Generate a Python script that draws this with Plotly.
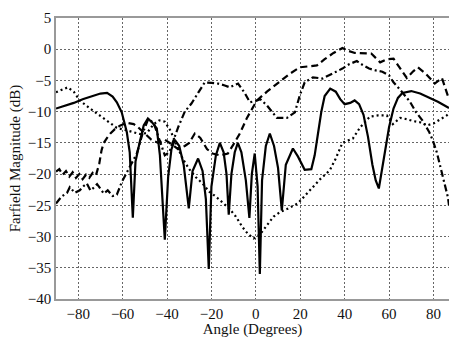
import plotly.graph_objects as go

# ---- data (angle in degrees, magnitude in dB) ----
solid_angle = [-90, -86, -82, -78, -74, -70, -67, -64.5, -62.6, -60.4, -58.1, -56.8, -55.4, -54.2, -52.3, -50.5,
               -48.6, -46.5, -44.6, -43.2, -41, -39.5, -38, -36.5, -34.5, -32.5, -30.2, -28.5, -26, -24, -22.5,
               -21.2, -20, -18, -16.2, -14.5, -13.2, -12.2, -11, -9.5, -8.1, -6.5, -4.5, -2.9, -1.8, -0.5, 0.8,
               1.8, 2.8, 4.5, 6.3, 8.2, 10, 11.7, 13.5, 16.7, 19, 22, 25, 26.5, 28, 29.5, 31, 33.5, 36, 38, 40,
               42.5, 44.5, 46.5, 48.5, 50.5, 52.5, 54, 55.4, 57, 58.5, 60, 62, 64, 66, 70, 74, 78, 82, 85, 87]
solid_db = [-9.5, -9.1, -8.6, -8.0, -7.5, -7.1, -7.0, -7.6, -8.5, -10.1, -13.3, -16.5, -27, -18, -14.9, -12.2,
            -11.1, -11.8, -12.7, -17, -30.5, -20.5, -16, -14.5, -15.5, -18.5, -25.5, -19.5, -17.5, -19.5, -24,
            -35.2, -22, -17, -15, -16.5, -20, -26.5, -20, -16.5, -15, -16.5, -21, -27, -20, -16.7, -22,
            -36, -21, -15.5, -13.5, -15.5, -19, -25.8, -18.5, -15.9, -17.2, -19.3, -19.2, -17, -13.5, -10, -7.5,
            -6.3, -6.8, -8, -8.8, -8.6, -8.2, -8.8, -10.5, -14, -18.5, -21, -22.3, -19, -15.5, -12.5, -9.5, -7.8,
            -7.0, -6.7, -7.1, -7.7, -8.4, -9.0, -9.4]

dashed_angle = [-90, -88.5, -87, -85.5, -84, -82.5, -81, -79.5, -78, -76.5, -75, -73.5, -72, -70.5, -69.5, -68.5,
                -67, -65.5, -63.5, -61, -58, -55, -53, -50, -47, -44, -41, -38, -35, -32, -30, -27.5, -25, -22,
                -19.5, -16, -12.6, -10, -7.2, -4, 0.5, 5, 9.5, 15, 19.8, 24, 27.5, 31, 35, 39, 42, 44.6, 48, 52,
                56, 59, 62, 65, 68, 71, 73, 76.5, 80.6, 83.8, 86, 87]
dashed_db = [-19.6, -19.2, -20.1, -19.5, -20.4, -19.7, -20.6, -20.0, -20.8, -20.1, -20.6, -19.8, -20.2, -18.3, -16.2,
             -15.0, -14.2, -13.5, -12.8, -12.2, -11.8, -12.0, -12.5, -13.5, -14.5, -15.0, -14.5, -15.2, -16.0,
             -15.5, -15.0, -13.5, -14.2, -16.0, -16.7, -17.0, -16.7, -15.2, -13.5, -11.0, -8.2, -6.8, -5.5, -4.0,
             -2.9, -2.7, -2.6, -1.6, -0.6, 0.2, -0.3, -0.6, -0.6, -0.7, -2.1, -1.6, -1.5, -3.0, -4.6, -3.5, -2.9,
             -3.9, -5.5, -4.6, -7.0, -8.0]

dashdot_angle = [-90, -87.5, -85, -83.8, -81.5, -79.3, -77.5, -76.1, -74.5, -73.4, -71.5, -70.3, -68.5, -66.7, -64.5,
                 -62.6, -60.4, -58.5, -56.8, -53.6, -51, -48.5, -46, -43.5, -41, -39, -37, -35, -32, -29, -26, -23,
                 -20, -17, -14, -11.7, -8, -5, -2.7, 0, 2, 5, 9.5, 14, 17.6, 19.8, 22, 25.7, 30, 35, 39, 42, 45.5,
                 48, 51, 54, 57, 60, 62, 65, 69.4, 72, 75, 78, 79.7, 81.5, 83, 85, 86.5, 87]
dashdot_db = [-24.7, -23.6, -23.0, -22.1, -23.0, -22.6, -21.9, -21.5, -22.6, -22.3, -21.6, -22.2, -23.1, -22.6,
              -23.5, -23.3, -21.3, -20.0, -18.9, -16.7, -13.5, -11.2, -11.8, -14.5, -17.0, -16.5, -14.5, -12.5,
              -10.0, -8.7, -7.0, -5.3, -5.4, -5.5, -5.8, -6.1, -5.5, -7.0, -8.5, -8.3, -8.0, -9.0, -11.0, -11.0,
              -10.1, -7.4, -5.3, -4.5, -4.7, -3.8, -3.1, -2.4, -1.9, -2.5, -3.1, -3.4, -3.6, -4.2, -5.3, -6.5,
              -8.4, -10.0, -11.4, -13.2, -14.6, -16.5, -18.8, -21.5, -23.7, -25.0]

dotted_angle = [-90, -87, -84.7, -82, -79.3, -75, -70.3, -66, -62.6, -58, -55.4, -52, -49, -46, -43.5, -41, -38.5,
                -36, -33, -30, -27, -24, -21, -18, -15, -12, -9, -6, -3.5, -1, 0.5, 2, 5, 8, 10.8, 14, 18.9,
                22, 25.7, 29, 33.3, 36, 39, 43.7, 47, 51.4, 55, 59, 61.7, 65, 68, 70.7, 74, 77, 80, 83, 86, 87]
dotted_db = [-6.9, -6.4, -6.1, -6.8, -8.2, -9.4, -10.6, -11.8, -12.6, -13.0, -13.3, -13.6, -13.4, -12.0, -11.4,
             -11.6, -13.0, -15.0, -17.5, -19.2, -20.5, -21.5, -22.8, -23.6, -24.5, -25.5, -26.8, -28.5, -29.6,
             -30.3, -30.0, -29.6, -28.2, -26.8, -26.1, -25.6, -24.7, -23.5, -22.1, -20.8, -19.4, -17.5, -15.0,
             -14.3, -12.5, -10.8, -10.6, -10.6, -12.0, -11.0, -11.2, -11.5, -11.7, -12.2, -11.9, -11.3, -10.6, -10.2]

x_ticks = [-80, -60, -40, -20, 0, 20, 40, 60, 80]
y_ticks = [5, 0, -5, -10, -15, -20, -25, -30, -35, -40]

FONT = "Liberation Serif"

fig = go.Figure()
fig.add_trace(go.Scatter(x=dashed_angle, y=dashed_db, mode="lines",
                         line=dict(color="black", width=2.2, dash="7px,4px")))
fig.add_trace(go.Scatter(x=dashdot_angle, y=dashdot_db, mode="lines",
                         line=dict(color="black", width=2.2, dash="7px,3px,2px,3px")))
fig.add_trace(go.Scatter(x=dotted_angle, y=dotted_db, mode="lines",
                         line=dict(color="black", width=2.2, dash="2px,3px")))
fig.add_trace(go.Scatter(x=solid_angle, y=solid_db, mode="lines",
                         line=dict(color="black", width=2.2)))

fig.update_layout(
    width=449, height=338,
    margin=dict(l=56, r=0, t=18, b=39, autoexpand=False),
    paper_bgcolor="white", plot_bgcolor="white",
    showlegend=False,
    font=dict(family=FONT, size=15, color="#111"),
    xaxis=dict(range=[-90, 87], tickvals=x_ticks, ticks="", showline=True, linecolor="#999",
               linewidth=1.5, mirror=True, showgrid=True, gridcolor="#666", gridwidth=1,
               griddash="2px,2px", zeroline=False, automargin=False,
               title=dict(text="Angle (Degrees)", standoff=2, font=dict(family=FONT, size=15)),
               tickfont=dict(family=FONT, size=15)),
    yaxis=dict(range=[-40, 5], tickvals=y_ticks, ticks="", showline=True, linecolor="#999",
               linewidth=1.5, showgrid=True, gridcolor="#666", gridwidth=1, griddash="2px,2px",
               zeroline=False, automargin=False,
               title=dict(text="Farfield Magnitude (dB)", standoff=4, font=dict(family=FONT, size=15)),
               tickfont=dict(family=FONT, size=15)),
)

fig.write_html("out.html")
